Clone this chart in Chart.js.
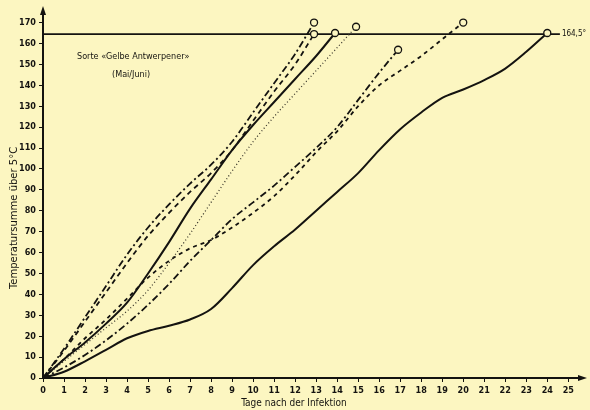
<!DOCTYPE html>
<html>
	<head>
		<title>Gelbe Antwerpener</title>
		<style>
html, body {
	margin: 0;
	padding: 0;
	background-color: #fcf6c1;
}
	.wrap {
		width: 590px;
		height: 410px;
		position: relative;
	}
		</style>
	</head>
	<body>
		<div class="wrap">
			<canvas id="sumGraph"></canvas>
		</div>

		<script src="https://cdn.jsdelivr.net/npm/chart.js"></script>
		<script>
			// Tage nach der Infektion / Temperatursumme ueber 5 C, one pair per curve
			const daysA = [0, 1, 2, 3, 4, 5, 6, 7, 8, 9, 10, 11, 12, 12.9];
			const tempA = [0, 14, 29, 44, 59, 72, 83, 93, 102, 113, 127, 141, 155, 170];
			const daysB = [0, 1, 2, 3, 4, 5, 6, 7, 8, 9, 10, 11, 12, 12.9];
			const tempB = [0, 13, 27, 41, 55, 68, 79, 89, 98, 109, 123, 137, 150, 164.5];
			const daysC = [0, 1, 2, 3, 4, 5, 6, 7, 8, 9, 10, 11, 12, 13, 13.9];
			const tempC = [0, 9, 17, 26, 36, 50, 65, 81, 95, 109, 121, 132, 143, 154, 165];
			const daysD = [0, 1, 2, 3, 4, 5, 6, 7, 8, 9, 10, 11, 12, 13, 14, 14.9];
			const tempD = [0, 8, 16, 24, 32, 42, 55, 69, 84, 99, 113, 125, 136, 147, 158, 168];
			const daysE = [0, 1, 2, 3, 4, 5, 6, 7, 8, 9, 10, 11, 12, 13, 14, 15, 16, 16.9];
			const tempE = [0, 5, 11, 18, 26, 35, 45, 56, 66, 76, 84, 92, 101, 110, 120, 133, 146, 157];
			const daysF = [0, 1, 2, 3, 4, 5, 6, 7, 8, 9, 10, 11, 12, 13, 14, 15, 16, 17, 18, 19, 20];
			const tempF = [0, 9, 19, 28, 38, 48, 56, 62, 66, 72, 79, 87, 97, 108, 118, 130, 140, 147, 154, 162, 170];
			const daysG = [0, 1, 2, 3, 4, 5, 6, 7, 8, 9, 10, 11, 12, 13, 14, 15, 16, 17, 18, 19, 20, 21, 22, 23, 24];
			const tempG = [0, 3, 8, 13.5, 19, 22.5, 25, 28, 33, 43, 54, 63, 71, 80, 89, 98, 109, 119, 127, 134, 138, 142.5, 148, 156, 165];

			// reference line 164,5 degrees
			const limitDays = [0, 24.6];
			const limitTemp = [164.5, 164.5];

			const xTicks = [0, 1, 2, 3, 4, 5, 6, 7, 8, 9, 10, 11, 12, 13, 14, 15, 16, 17, 18, 19, 20, 21, 22, 23, 24, 25];
			const yTicks = [0, 10, 20, 30, 40, 50, 60, 70, 80, 90, 100, 110, 120, 130, 140, 150, 160, 170];

			const ink = '#141310';
			const paper = '#fcf6c1';
			const handFont = '"DejaVu Sans Condensed", "DejaVu Sans", sans-serif';

			const toPoints = (xs, ys) => xs.map((x, i) => ({ x: x, y: ys[i] }));

			// only the last point of a curve gets its little circle
			const endMarker = (n) => Array.from({ length: n }, (_, i) => (i === n - 1 ? 3.5 : 0));

			const curve = (xs, ys, dash, width, color) => ({
				data: toPoints(xs, ys),
				borderColor: color || ink,
				borderWidth: width,
				borderDash: dash,
				cubicInterpolationMode: 'monotone',
				fill: false,
				pointRadius: endMarker(xs.length),
				pointBackgroundColor: paper,
				pointBorderColor: ink,
				pointBorderWidth: 1.3,
				pointHoverRadius: 0
			});

			const paperPlugin = {
				id: 'paper',
				beforeDraw(chart) {
					const c = chart.ctx;
					c.save();
					c.fillStyle = paper;
					c.fillRect(0, 0, chart.width, chart.height);
					c.restore();
				},
				afterDraw(chart) {
					const c = chart.ctx;
					const xs = chart.scales.x;
					const ys = chart.scales.y;
					const x0 = xs.getPixelForValue(0);
					const y0 = ys.getPixelForValue(0);
					c.save();
					c.fillStyle = ink;
					// arrow heads on both axes
					c.beginPath();
					c.moveTo(x0, chart.chartArea.top - 4);
					c.lineTo(x0 - 3, chart.chartArea.top + 5);
					c.lineTo(x0 + 3, chart.chartArea.top + 5);
					c.closePath();
					c.fill();
					c.beginPath();
					c.moveTo(chart.chartArea.right + 4, y0);
					c.lineTo(chart.chartArea.right - 5, y0 - 3);
					c.lineTo(chart.chartArea.right - 5, y0 + 3);
					c.closePath();
					c.fill();

					c.textBaseline = 'middle';
					c.font = '9px ' + handFont;
					c.textAlign = 'left';
					c.fillText('Sorte \u00abGelbe Antwerpener\u00bb', 77, 57);
					c.fillText('(Mai/Juni)', 112, 75);

					c.font = '8px ' + handFont;
					const ly = ys.getPixelForValue(limitTemp[1]);
					c.fillText('164,5\u00b0', xs.getPixelForValue(limitDays[1]) + 2, ly);

					c.font = '10px ' + handFont;
					c.textAlign = 'center';
					c.fillText('Tage nach der Infektion', 294, 403);
					c.font = '10px "DejaVu Sans", sans-serif';
					c.translate(14, 218);
					c.rotate(-Math.PI / 2);
					c.fillText('Temperatursumme \u00fcber 5\u00b0C', 0, 0);
					c.restore();
				}
			};

			const ctx = document.getElementById('sumGraph').getContext('2d');

			const sumChart = new Chart(ctx, {
				type: 'line',
				data: {
					datasets: [
						curve(daysA, tempA, [7, 3, 2, 3], 1.8),
						curve(daysB, tempB, [5, 4], 1.8),
						curve(daysC, tempC, [], 2),
						curve(daysD, tempD, [1, 2.5], 1.3, '#3a372c'),
						curve(daysE, tempE, [7, 3, 2, 3], 1.8),
						curve(daysF, tempF, [4, 4], 1.8),
						curve(daysG, tempG, [], 2),
						{
							data: toPoints(limitDays, limitTemp),
							borderColor: ink,
							borderWidth: 1.8,
							pointRadius: 0,
							tension: 0
						}
					]
				},
				options: {
					responsive: true,
					maintainAspectRatio: false,
					animation: false,
					layout: { padding: { top: 10, right: 7, left: 0, bottom: 0 } },
					plugins: {
						legend: { display: false },
						tooltip: { enabled: false }
					},
					scales: {
						x: {
							type: 'linear',
							min: 0,
							max: 25.7,
							afterFit(s) { s.height = 32; },
							afterBuildTicks(s) { s.ticks = xTicks.map(v => ({ value: v })); },
							border: { color: ink, width: 2 },
							grid: { drawOnChartArea: false, drawTicks: true, tickLength: 4, color: ink },
							ticks: {
								color: ink,
								padding: 3,
								maxRotation: 0,
								font: { family: handFont, size: 9, weight: 'bold' }
							}
						},
						y: {
							min: 0,
							max: 176,
							afterFit(s) { s.width = 43; },
							afterBuildTicks(s) { s.ticks = yTicks.map(v => ({ value: v })); },
							border: { color: ink, width: 2 },
							grid: { drawOnChartArea: false, drawTicks: true, tickLength: 4, color: ink },
							ticks: {
								color: ink,
								padding: 3,
								font: { family: handFont, size: 9, weight: 'bold' }
							}
						}
					}
				},
				plugins: [paperPlugin]
			});
		</script>
	</body>
</html>
